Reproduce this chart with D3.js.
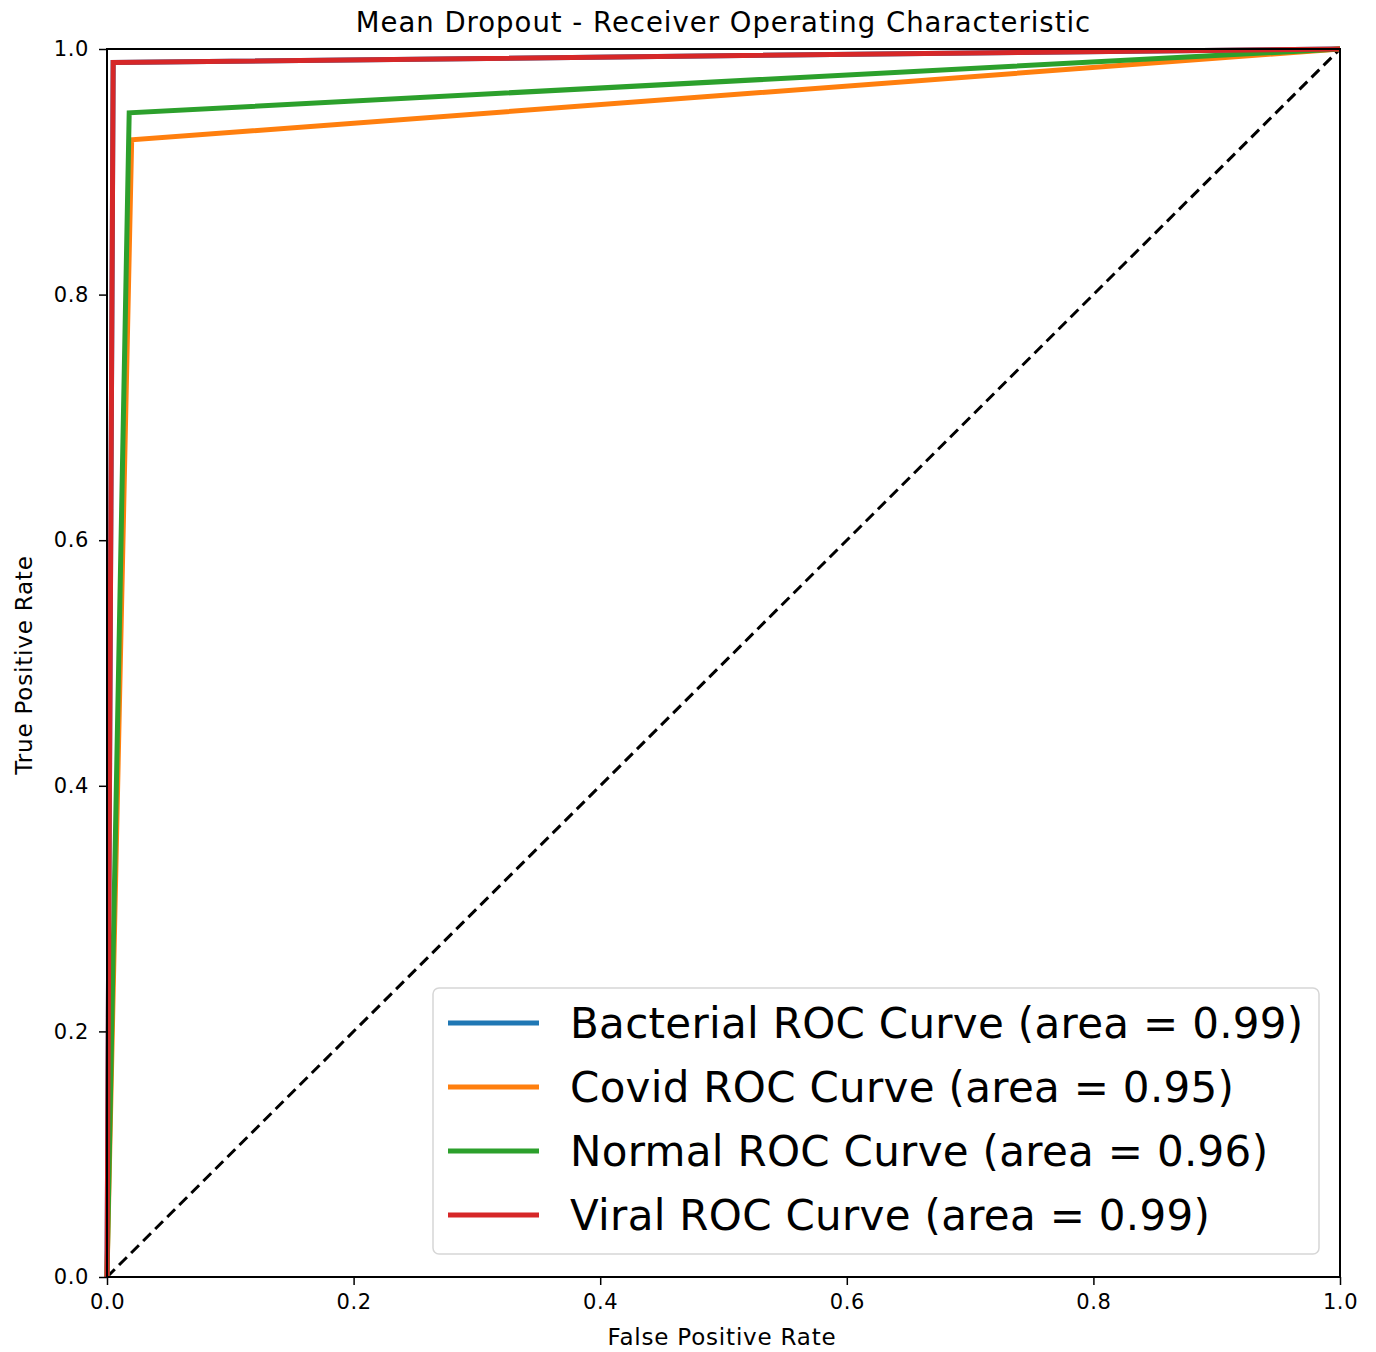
<!DOCTYPE html>
<html>
<head>
<meta charset="utf-8">
<script src="https://cdn.jsdelivr.net/npm/d3@7"></script>
<style>
  body { margin: 0; background: #fff; }
  svg { font-family: "DejaVu Sans", sans-serif; }
</style>
</head>
<body>
<div id="chart"></div>
<script>
// ROC curves
const seriesNames = ["Bacterial", "Covid", "Normal", "Viral"];
const seriesAuc = ["0.99", "0.95", "0.96", "0.99"];
const seriesColors = ["#1f77b4", "#ff7f0e", "#2ca02c", "#d62728"];
const bacterialFpr = [0, 0.005, 1];
const bacterialTpr = [0, 0.989, 1];
const covidFpr = [0, 0.02, 1];
const covidTpr = [0, 0.926, 1];
const normalFpr = [0, 0.018, 1];
const normalTpr = [0, 0.948, 1];
const viralFpr = [0, 0.005, 1];
const viralTpr = [0, 0.989, 1];
const tickValues = [0, 0.2, 0.4, 0.6, 0.8, 1.0];

const fprs = [bacterialFpr, covidFpr, normalFpr, viralFpr];
const tprs = [bacterialTpr, covidTpr, normalTpr, viralTpr];

const W = 1376, H = 1352;
const mLeft = 107, mRight = 1340, mTop = 49, mBottom = 1277;

const svg = d3.select("#chart").append("svg")
    .attr("width", W)
    .attr("height", H);

const x = d3.scaleLinear().domain([0, 1]).range([mLeft, mRight]);
const y = d3.scaleLinear().domain([0, 1]).range([mBottom, mTop]);

// diagonal chance line
svg.append("line")
    .attr("x1", x(0)).attr("y1", y(0))
    .attr("x2", x(1)).attr("y2", y(1))
    .attr("stroke", "#000")
    .attr("stroke-width", 3)
    .attr("stroke-dasharray", "11,6");

const line = d3.line().x(d => x(d[0])).y(d => y(d[1]));

seriesNames.forEach((name, i) => {
  const pts = fprs[i].map((f, j) => [f, tprs[i][j]]);
  svg.append("path")
      .datum(pts)
      .attr("d", line)
      .attr("fill", "none")
      .attr("stroke", seriesColors[i])
      .attr("stroke-width", 5)
      .attr("stroke-linejoin", "miter");
});

// frame
svg.append("rect")
    .attr("x", mLeft).attr("y", mTop)
    .attr("width", mRight - mLeft).attr("height", mBottom - mTop)
    .attr("fill", "none")
    .attr("stroke", "#000")
    .attr("stroke-width", 2);

const fmt = d3.format(".1f");
const xAxis = svg.append("g")
    .attr("transform", `translate(0,${mBottom})`)
    .call(d3.axisBottom(x).tickValues(tickValues).tickFormat(fmt).tickSize(8).tickPadding(9));
const yAxis = svg.append("g")
    .attr("transform", `translate(${mLeft},0)`)
    .call(d3.axisLeft(y).tickValues(tickValues).tickFormat(fmt).tickSize(8).tickPadding(10));
[xAxis, yAxis].forEach(g => {
  g.select(".domain").remove();
  g.selectAll(".tick line").attr("stroke-width", 1.5);
  g.selectAll("text").attr("font-size", 21).attr("fill", "#000")
      .attr("letter-spacing", 0.6)
      .attr("font-family", "DejaVu Sans, sans-serif");
});

svg.append("text")
    .attr("x", (mLeft + mRight) / 2).attr("y", 32)
    .attr("text-anchor", "middle")
    .attr("font-size", 27.5)
    .attr("letter-spacing", 1)
    .text("Mean Dropout - Receiver Operating Characteristic");

svg.append("text")
    .attr("x", 722).attr("y", 1345)
    .attr("text-anchor", "middle")
    .attr("font-size", 23)
    .attr("letter-spacing", 0.8)
    .text("False Positive Rate");

svg.append("text")
    .attr("transform", `translate(32,665) rotate(-90)`)
    .attr("text-anchor", "middle")
    .attr("font-size", 23)
    .attr("letter-spacing", 0.8)
    .text("True Positive Rate");

// legend
const leg = svg.append("g");
leg.append("rect")
    .attr("x", 433).attr("y", 988)
    .attr("width", 886).attr("height", 266)
    .attr("rx", 6)
    .attr("fill", "#fff")
    .attr("fill-opacity", 0.8)
    .attr("stroke", "#d6d6d6")
    .attr("stroke-width", 1.5);

seriesNames.forEach((name, i) => {
  const cy = 1023 + i * 64;
  leg.append("line")
      .attr("x1", 448).attr("x2", 539)
      .attr("y1", cy).attr("y2", cy)
      .attr("stroke", seriesColors[i])
      .attr("stroke-width", 5);
  leg.append("text")
      .attr("x", 570).attr("y", cy + 15)
      .attr("font-size", 42)
      .attr("letter-spacing", 0.3)
      .text(`${name} ROC Curve (area = ${seriesAuc[i]})`);
});
</script>
</body>
</html>
